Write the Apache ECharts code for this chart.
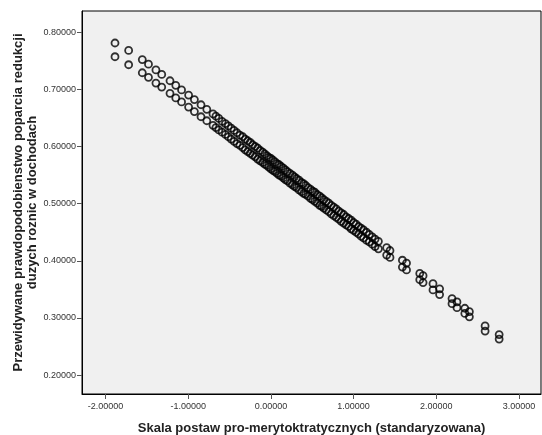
<!DOCTYPE html>
<html>
<head>
<meta charset="utf-8">
<script src="https://cdn.jsdelivr.net/npm/echarts@6/dist/echarts.min.js"></script>
<style>
html,body{margin:0;padding:0;background:#fff;}
#chart{width:542px;height:435px;}
</style>
</head>
<body>
<div id="chart"></div>
<script>
// Scale values (standardized)
const xValues = [-1.885, -1.72, -1.555, -1.48, -1.39, -1.32, -1.22, -1.15, -1.08, -0.995,
  -0.925, -0.845, -0.775,
  -0.70, -0.665, -0.63, -0.59, -0.55, -0.515, -0.48, -0.445, -0.41, -0.375, -0.34,
  -0.31, -0.28, -0.25, -0.22, -0.19, -0.16, -0.13, -0.10, -0.075, -0.05, -0.025,
  0.00, 0.025, 0.05, 0.075, 0.10, 0.125, 0.15, 0.175, 0.20, 0.23,
  0.26, 0.285, 0.31, 0.34, 0.37, 0.395, 0.42, 0.45, 0.48, 0.505,
  0.53, 0.56, 0.59, 0.615, 0.64, 0.67, 0.70, 0.73, 0.76, 0.79,
  0.82, 0.85, 0.88, 0.91, 0.94, 0.97, 1.00, 1.03, 1.06, 1.09,
  1.12, 1.155, 1.19, 1.225, 1.26,
  1.30, 1.40, 1.44, 1.59, 1.64, 1.80, 1.84, 1.96, 2.04, 2.19,
  2.25, 2.345, 2.40, 2.59, 2.76];
// Predicted probability, upper band
const upperValues = [0.781, 0.768, 0.752, 0.744, 0.734, 0.726, 0.715, 0.707, 0.699, 0.690,
  0.682, 0.673, 0.665,
  0.657, 0.653, 0.649, 0.644, 0.640, 0.636, 0.632, 0.628, 0.624, 0.620, 0.617,
  0.613, 0.610, 0.607, 0.603, 0.600, 0.597, 0.593, 0.590, 0.587, 0.584, 0.581,
  0.579, 0.576, 0.573, 0.570, 0.568, 0.565, 0.562, 0.559, 0.556, 0.553,
  0.550, 0.547, 0.544, 0.541, 0.537, 0.535, 0.532, 0.528, 0.525, 0.522,
  0.520, 0.516, 0.513, 0.510, 0.507, 0.504, 0.501, 0.497, 0.494, 0.491,
  0.487, 0.484, 0.481, 0.477, 0.474, 0.471, 0.467, 0.464, 0.460, 0.457,
  0.454, 0.450, 0.446, 0.442, 0.438,
  0.434, 0.423, 0.418, 0.401, 0.396, 0.378, 0.374, 0.360, 0.351, 0.334,
  0.328, 0.317, 0.311, 0.286, 0.271];
// Predicted probability, lower band
const lowerValues = [0.757, 0.743, 0.729, 0.721, 0.711, 0.704, 0.693, 0.685, 0.678, 0.669,
  0.661, 0.652, 0.645,
  0.637, 0.633, 0.629, 0.625, 0.621, 0.617, 0.613, 0.609, 0.605, 0.602, 0.598,
  0.594, 0.591, 0.588, 0.585, 0.582, 0.578, 0.575, 0.572, 0.569, 0.567, 0.564,
  0.561, 0.558, 0.556, 0.553, 0.550, 0.548, 0.545, 0.542, 0.540, 0.536,
  0.533, 0.530, 0.528, 0.524, 0.521, 0.518, 0.516, 0.513, 0.509, 0.507,
  0.504, 0.501, 0.497, 0.495, 0.492, 0.489, 0.486, 0.482, 0.479, 0.476,
  0.473, 0.469, 0.466, 0.463, 0.460, 0.456, 0.453, 0.450, 0.447, 0.443,
  0.440, 0.436, 0.433, 0.429, 0.425,
  0.421, 0.410, 0.406, 0.389, 0.384, 0.367, 0.362, 0.349, 0.341, 0.325,
  0.318, 0.308, 0.302, 0.277, 0.263];
const xTicks = [-2, -1, 0, 1, 2, 3];
const yTicks = [0.2, 0.3, 0.4, 0.5, 0.6, 0.7, 0.8];

const upperData = xValues.map((x, i) => [x, upperValues[i]]);
const lowerData = xValues.map((x, i) => [x, lowerValues[i]]);

const chart = echarts.init(document.getElementById('chart'), null, {renderer: 'canvas'});
const labelFont = {fontFamily: 'Liberation Sans, Arial, sans-serif', fontSize: 9, color: '#333'};
const markerStyle = {color: 'rgba(0,0,0,0)', borderColor: '#000', borderWidth: 1.8};
chart.setOption({
  animation: false,
  backgroundColor: '#ffffff',
  grid: {left: 82, top: 11, right: 1, bottom: 41, show: true, backgroundColor: '#f0f0f0',
         borderColor: '#000', borderWidth: 1, containLabel: false, outerBoundsMode: 'none'},
  xAxis: {
    type: 'value', min: -2.284, max: 3.266,
    name: 'Skala postaw pro-merytoktratycznych (standaryzowana)',
    nameLocation: 'middle', nameGap: 28, nameMoveOverlap: false,
    nameTextStyle: {fontFamily: 'Liberation Sans, Arial, sans-serif', fontSize: 13, fontWeight: 'bold', color: '#222'},
    axisLine: {show: true, onZero: false, lineStyle: {color: '#000', width: 1}},
    axisTick: {show: true, length: 5, customValues: xTicks, lineStyle: {color: '#555'}},
    axisLabel: Object.assign({margin: 8, customValues: xTicks, formatter: v => v.toFixed(5)}, labelFont),
    splitLine: {show: false}
  },
  yAxis: {
    type: 'value', min: 0.167, max: 0.837,
    name: 'Przewidywane prawdopodobienstwo poparcia redukcji\nduzych roznic w dochodach',
    nameLocation: 'middle', nameGap: 43, nameRotate: 90, nameMoveOverlap: false,
    nameTextStyle: {fontFamily: 'Liberation Sans, Arial, sans-serif', fontSize: 13, fontWeight: 'bold', color: '#222', lineHeight: 14},
    axisLine: {show: true, onZero: false, lineStyle: {color: '#000', width: 1}},
    axisTick: {show: true, length: 5, customValues: yTicks, lineStyle: {color: '#555'}},
    axisLabel: Object.assign({margin: 6, customValues: yTicks, formatter: v => v.toFixed(5)}, labelFont),
    splitLine: {show: false}
  },
  series: [
    {type: 'scatter', data: upperData, symbol: 'circle', symbolSize: 7, itemStyle: markerStyle, emphasis: {disabled: true}},
    {type: 'scatter', data: lowerData, symbol: 'circle', symbolSize: 7, itemStyle: markerStyle, emphasis: {disabled: true}}
  ]
});
</script>
</body>
</html>
